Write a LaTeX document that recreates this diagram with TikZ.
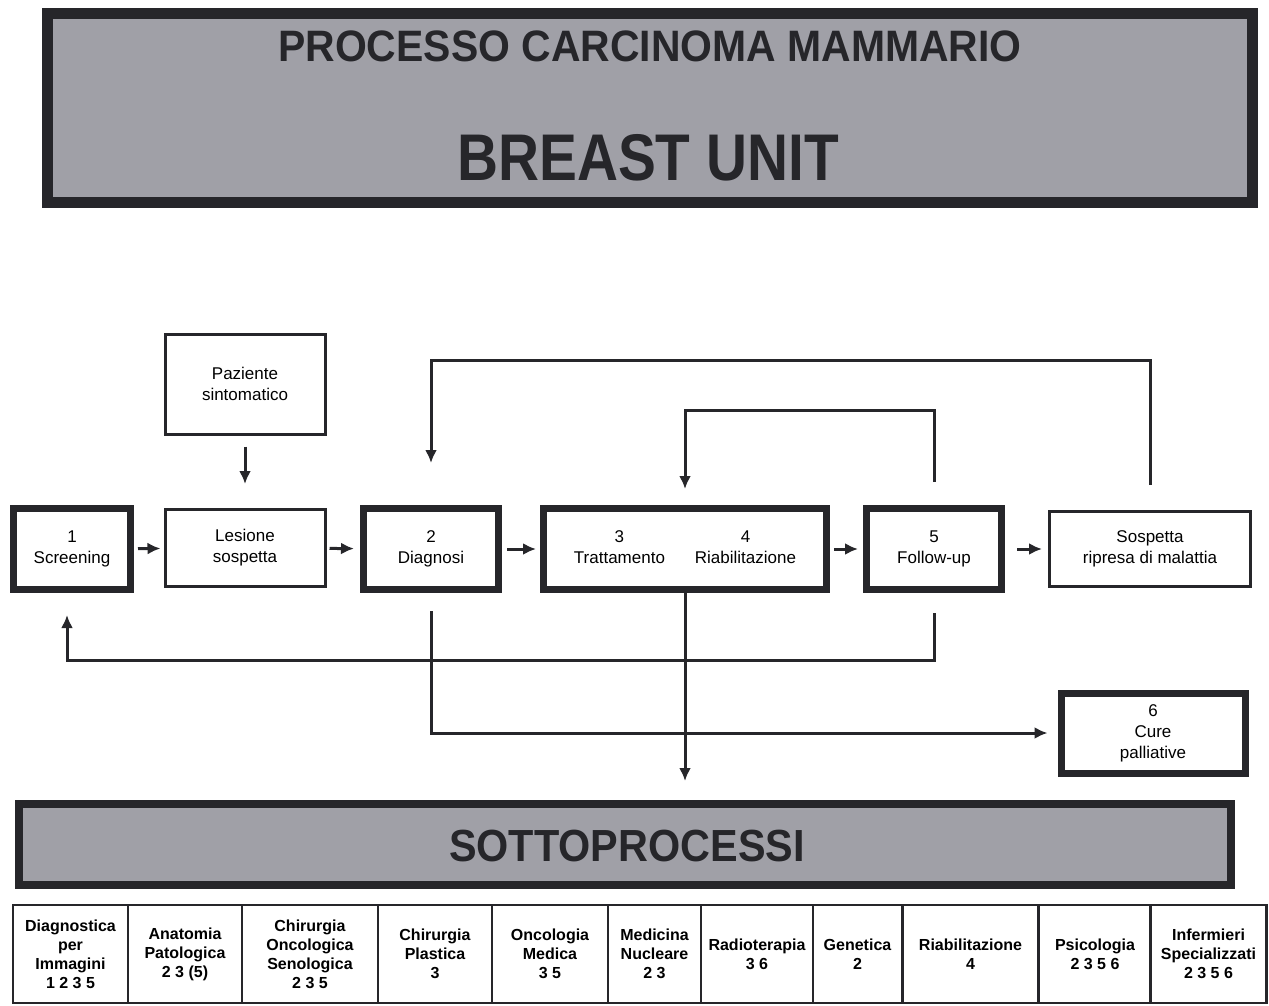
\documentclass[tikz,border=0pt]{standalone}
\usepackage{fontspec}
\setmainfont{Liberation Sans}
\newfontfamily\condA[FakeStretch=0.86]{Liberation Sans}
\newfontfamily\condB[FakeStretch=0.92]{Liberation Sans}
\newfontfamily\condC[FakeStretch=0.93]{Liberation Sans}
\usetikzlibrary{arrows.meta}
\definecolor{boxdark}{RGB}{38,38,42}
\definecolor{headgray}{RGB}{160,160,167}
\tikzset{
  thickbox/.style={draw=boxdark, line width=7pt, fill=white, inner sep=0pt, align=center,
    font=\fontsize{17}{21}\selectfont},
  thinbox/.style={draw=boxdark, line width=3pt, fill=white, inner sep=0pt, align=center,
    font=\fontsize{17}{21}\selectfont},
  headbox/.style={draw=boxdark, fill=headgray, inner sep=0pt},
  cell/.style={draw=boxdark, line width=2.5pt, fill=white, inner sep=0pt, align=center,
    minimum height=98pt, font=\bfseries\fontsize{16}{19}\selectfont},
  conn/.style={draw=boxdark, line width=3pt},
  arr/.style={conn, -{Latex[length=13pt,width=12pt]}},
}
\begin{document}
\begin{tikzpicture}[x=1pt,y=-1pt]
\useasboundingbox (0,0) rectangle (1269,1006);

% title
\node[headbox, line width=11pt, minimum width=1205pt, minimum height=189pt] (title) at (650,108) {};
\node[font=\condC\bfseries\fontsize{44}{44}\selectfont, text=boxdark] (t1) at (650,46) {PROCESSO CARCINOMA MAMMARIO};
\node[font=\condA\bfseries\fontsize{66}{66}\selectfont, text=boxdark] (t2) at (648,158) {BREAST UNIT};

% flow boxes
\node[thinbox, minimum width=160pt, minimum height=100pt] (paz) at (245,384) {Paziente\\sintomatico};
\node[thickbox, minimum width=117pt, minimum height=81pt] (scr) at (72,549) {1\\Screening};
\node[thinbox, minimum width=160pt, minimum height=77pt] (les) at (245,548) {Lesione\\sospetta};
\node[thickbox, minimum width=135pt, minimum height=81pt] (dia) at (431,549) {2\\Diagnosi};
\node[thickbox, minimum width=283pt, minimum height=81pt] (tra) at (685,549)
  {\begin{tabular}{@{}c@{\hskip 30pt}c@{}}3&4\\Trattamento&Riabilitazione\end{tabular}};
\node[thickbox, minimum width=135pt, minimum height=81pt] (fol) at (934,549) {5\\Follow-up};
\node[thinbox, minimum width=201pt, minimum height=75pt] (sos) at (1150,549) {Sospetta\\ripresa di malattia};
\node[thickbox, minimum width=184pt, minimum height=80pt] (cur) at (1153,733) {6\\Cure\\palliative};

% sottoprocessi header
\node[headbox, line width=8pt, minimum width=1212pt, minimum height=81pt] (sotto) at (625,844.5) {};
\node[font=\condB\bfseries\fontsize{45}{45}\selectfont, text=boxdark] (st) at (627,846) {SOTTOPROCESSI};

% connector helper levels
\coordinate (lvA) at (0,360);
\coordinate (lvB) at (0,410);
\coordinate (lvC) at (0,660);

% horizontal arrows
\draw[arr, shorten <=4pt, shorten >=3pt] (scr) -- (les);
\draw[arr, shorten <=3pt, shorten >=6pt] (les) -- (dia);
\draw[arr, shorten <=5pt, shorten >=4pt] (dia) -- (tra);
\draw[arr, shorten <=4pt, shorten >=5pt] (tra) -- (fol);
\draw[arr, shorten <=12pt, shorten >=6pt] (fol) -- (sos);

% vertical / loops
\draw[arr, shorten <=11pt, shorten >=24pt] (paz.south) -- (les.north);
\draw[arr, shorten <=25pt, shorten >=42pt] (sos.north) -- (sos.north |- lvA) -| (dia.north);
\draw[arr, shorten <=23pt, shorten >=16pt] (fol.north) -- (fol.north |- lvB) -| (tra.north);
\draw[arr, shorten <=20pt, shorten >=22pt] (fol.south) -- (fol.south |- lvC) -| ([xshift=-5pt]scr.south);
\draw[arr, shorten <=18pt, shorten >=10pt] (dia.south) |- (cur.west);
\draw[arr, shorten >=19pt] (tra.south) -- (tra.south |- sotto.north);

% table of sub-processes
\node[cell, minimum width=115pt] (c1) at (70.5,954) {Diagnostica\\per\\Immagini\\1 2 3 5};
\node[cell, minimum width=114pt] (c2) at (185,954) {Anatomia\\Patologica\\2 3 (5)};
\node[cell, minimum width=136pt] (c3) at (310,954) {Chirurgia\\Oncologica\\Senologica\\2 3 5};
\node[cell, minimum width=114pt] (c4) at (435,954) {Chirurgia\\Plastica\\3};
\node[cell, minimum width=116pt] (c5) at (550,954) {Oncologia\\Medica\\3 5};
\node[cell, minimum width=93pt] (c6) at (654.5,954) {Medicina\\Nucleare\\2 3};
\node[cell, minimum width=112pt] (c7) at (757,954) {Radioterapia\\3 6};
\node[cell, minimum width=89pt] (c8) at (857.5,954) {Genetica\\2};
\node[cell, minimum width=136pt] (c9) at (970.5,954) {Riabilitazione\\4};
\node[cell, minimum width=112pt] (c10) at (1095,954) {Psicologia\\2 3 5 6};
\node[cell, minimum width=116pt] (c11) at (1208.5,954) {Infermieri\\Specializzati\\2 3 5 6};
\end{tikzpicture}
\end{document}
